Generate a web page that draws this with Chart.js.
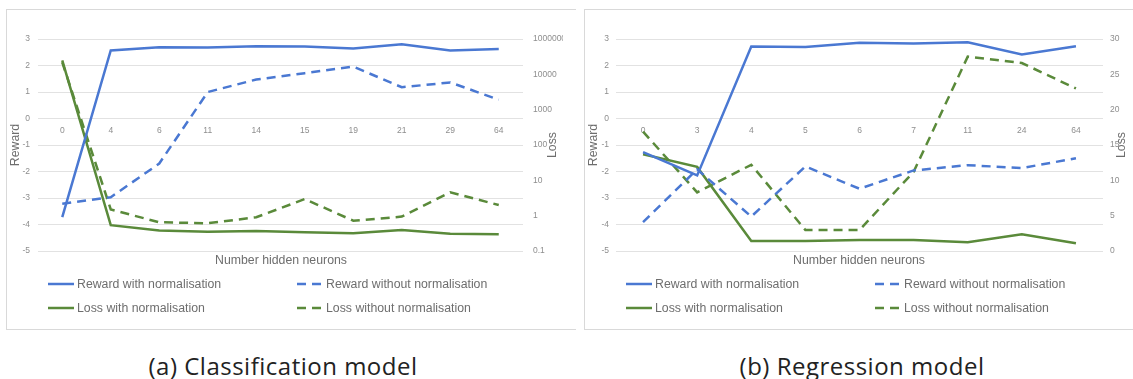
<!DOCTYPE html>
<html><head><meta charset="utf-8">
<script src="https://cdn.jsdelivr.net/npm/chart.js@4.4.1/dist/chart.umd.min.js"></script>
<style>
html,body{margin:0;padding:0;background:#fff;width:1133px;height:379px;overflow:hidden;position:relative;font-family:"Liberation Sans",Arial,sans-serif;}
.wrap{position:absolute;top:0;height:335px;overflow:hidden;}
.border{position:absolute;border:1px solid #d9d9d9;box-sizing:border-box;pointer-events:none;}
.xtitle{position:absolute;font-size:12.3px;color:#6e6e6e;transform:translate(-50%,-50%);white-space:nowrap;}
.leg{position:absolute;font-size:12.3px;color:#6e6e6e;white-space:nowrap;display:flex;align-items:center;transform:translateY(-50%);}
.leg svg{margin-right:3px;display:block;}
.cap{position:absolute;font-family:"Open Sans",sans-serif;font-size:24px;letter-spacing:0.5px;color:#222;transform:translate(-50%,-50%);white-space:nowrap;line-height:1;}
</style></head>
<body>
<div class="border" style="left:6px;top:9px;width:570px;height:321px;border-right:none;"></div>
<div class="border" style="left:584px;top:9px;width:560px;height:321px;border-right:none;"></div>
<div class="wrap" style="left:0;width:563px;"><canvas id="c1" width="563" height="335"></canvas></div>
<div class="wrap" style="left:563px;width:570px;"><canvas id="c2" width="570" height="335"></canvas></div>
<div class="xtitle" style="left:281px;top:260px;">Number hidden neurons</div>
<div class="xtitle" style="left:859px;top:260px;">Number hidden neurons</div>
<div id="leg1"></div>
<div id="leg2"></div>
<div class="cap" style="left:283px;top:366px;">(a) Classification model</div>
<div class="cap" style="left:862px;top:366px;">(b) Regression model</div>
<script>
// ---- data: (a) classification model ----
const classCategories = ['0','4','6','11','14','15','19','21','29','64'];
const classRewardNorm   = [-3.72, 2.57, 2.69, 2.68, 2.73, 2.72, 2.64, 2.80, 2.57, 2.62];
const classRewardNoNorm = [-3.22, -2.97, -1.70, 1.00, 1.47, 1.71, 1.96, 1.18, 1.36, 0.71];
const classLossNorm     = [25000, 0.54, 0.38, 0.35, 0.37, 0.34, 0.32, 0.39, 0.31, 0.30];
const classLossNoNorm   = [22000, 1.5, 0.65, 0.61, 0.90, 2.95, 0.72, 0.94, 4.6, 2.0];
const classLossTickValues = [0.1, 1, 10, 100, 1000, 10000, 100000];
const classLossTickLabels = ['0.1','1','10','100','1000','10000','1000000'];

// ---- data: (b) regression model ----
const regCategories = ['0','3','4','5','6','7','11','24','64'];
const regRewardNorm   = [-1.27, -2.15, 2.72, 2.70, 2.86, 2.83, 2.88, 2.42, 2.73];
const regRewardNoNorm = [-3.91, -1.92, -3.70, -1.81, -2.65, -1.96, -1.76, -1.87, -1.50];
const regLossNorm     = [13.7, 11.9, 1.42, 1.40, 1.55, 1.55, 1.23, 2.36, 1.09];
const regLossNoNorm   = [16.9, 8.3, 12.2, 2.97, 2.97, 11.2, 27.5, 26.6, 23.0];

const rewardTicks = {min:-5, max:3, step:1};
const seriesNames = ['Reward with normalisation','Reward without normalisation','Loss with normalisation','Loss without normalisation'];

const BLUE = '#4a78d2', GREEN = '#5a8a3a', GRID = '#e2e2e2', TICK = '#8e8e8e', TITLE = '#6e6e6e';
const FAM = '"Liberation Sans", Arial, sans-serif';
const DASH = [9,6];

function datasets(rn, rnn, ln, lnn){
  const base = {borderWidth:2.5, pointRadius:0, pointHoverRadius:0, tension:0, fill:false};
  return [
    Object.assign({label:seriesNames[0], data:rn, yAxisID:'y', borderColor:BLUE, borderDash:[]}, base),
    Object.assign({label:seriesNames[1], data:rnn, yAxisID:'y', borderColor:BLUE, borderDash:DASH}, base),
    Object.assign({label:seriesNames[2], data:ln, yAxisID:'y1', borderColor:GREEN, borderDash:[]}, base),
    Object.assign({label:seriesNames[3], data:lnn, yAxisID:'y1', borderColor:GREEN, borderDash:DASH}, base),
  ];
}

const rightTitle = {
  id:'rightTitle',
  afterDraw(chart, args, opts){
    const ctx = chart.ctx, a = chart.chartArea;
    ctx.save();
    ctx.translate(opts.x, (a.top + a.bottom)/2);
    ctx.rotate(-Math.PI/2);
    ctx.font = '12.3px ' + FAM;
    ctx.fillStyle = TITLE;
    ctx.textAlign = 'center';
    ctx.textBaseline = 'middle';
    ctx.fillText(opts.text, 0, 0);
    ctx.restore();
  }
};

function makeChart(id, cats, ds, cfg){
  const y1 = cfg.log ? {
    type:'logarithmic', position:'right', min:classLossTickValues[0], max:classLossTickValues[classLossTickValues.length-1],
    afterBuildTicks: s => { s.ticks = classLossTickValues.map(v => ({value:v, major:false})); },
    ticks:{color:TICK, font:{size:8.5, family:FAM}, padding:cfg.rpad, callback:(v,i)=>classLossTickLabels[i]},
  } : {
    type:'linear', position:'right', min:0, max:30,
    ticks:{color:TICK, font:{size:8.5, family:FAM}, padding:cfg.rpad, stepSize:5},
  };
  y1.grid = {drawOnChartArea:false, drawTicks:false, display:false};
  y1.border = {display:false};
  y1.afterFit = s => { s.width = cfg.rw; };
  return new Chart(document.getElementById(id), {
    type:'line',
    data:{labels:cats, datasets:ds},
    options:{
      responsive:false, animation:false, devicePixelRatio:1,
      layout:{padding:{left:0, right:0, top:39, bottom:84}},
      plugins:{legend:{display:false}, tooltip:{enabled:false}, rightTitle:{x:cfg.titleX, text:'Loss'}},
      scales:{
        x:{type:'category', position:{y:0}, offset:true,
           grid:{display:false, drawTicks:false}, border:{display:false},
           ticks:{color:TICK, font:{size:8.5, family:FAM}, padding:7, maxRotation:0, autoSkip:false}},
        y:{position:'left', min:rewardTicks.min, max:rewardTicks.max,
           ticks:{stepSize:rewardTicks.step, color:TICK, font:{size:8.5, family:FAM}, padding:cfg.lpad},
           grid:{color:GRID, drawTicks:false, lineWidth:1}, border:{display:false},
           title:{display:true, text:'Reward', color:TITLE, font:{size:12.3, family:FAM}, padding:{top:cfg.ltp, bottom:0}},
           afterFit: s => { s.width = cfg.lw; }},
        y1: y1
      }
    },
    plugins:[rightTitle]
  });
}

const ch1 = makeChart('c1', classCategories, datasets(classRewardNorm, classRewardNoNorm, classLossNorm, classLossNoNorm),
  {log:true, lw:38, rw:40, lpad:8, rpad:10, ltp:8, titleX:553});
const ch2 = makeChart('c2', regCategories, datasets(regRewardNorm, regRewardNoNorm, regLossNorm, regLossNoNorm),
  {log:false, lw:53, rw:30, lpad:7, rpad:7, ltp:23, titleX:559});

function buildLegend(el, chart, col1x, col2x){
  const rows = [284, 308];
  chart.data.datasets.forEach((d, i) => {
    const div = document.createElement('div');
    div.className = 'leg';
    const x = (i % 2 === 0) ? col1x : col2x;
    const y = rows[Math.floor(i/2)];
    div.style.left = x + 'px';
    div.style.top = y + 'px';
    const dash = d.borderDash && d.borderDash.length ? d.borderDash.join(' ') : 'none';
    div.innerHTML = '<svg width="26" height="6"><line x1="0" y1="3" x2="26" y2="3" stroke="' + d.borderColor +
      '" stroke-width="2.5" stroke-dasharray="' + dash + '"/></svg><span>' + d.label + '</span>';
    el.appendChild(div);
  });
}
buildLegend(document.getElementById('leg1'), ch1, 48, 297);
buildLegend(document.getElementById('leg2'), ch2, 626, 875);
</script>
</body></html>
